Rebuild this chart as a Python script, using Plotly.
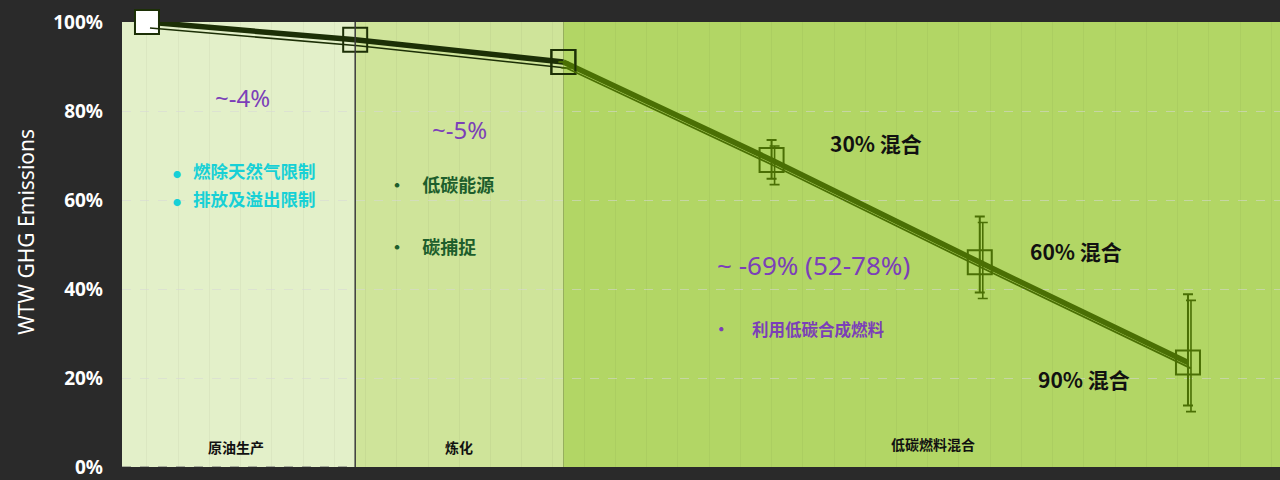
import plotly.graph_objects as go

# Stage positions along the value chain and the relative WTW emissions (%)
stage_pos = [0, 1, 2, 3, 4, 5]
emissions = [100, 96, 91, 69, 46, 23.5]
err_up = [0, 0, 0, 4.5, 10.3, 15.3]
err_down = [0, 0, 0, 4.2, 6.8, 9.7]

blend_labels = ["30% 混合", "60% 混合", "90% 混合"]
blend_label_pos = [(3.50, 72.8), (4.46, 48.6), (4.50, 19.8)]

region_names = ["原油生产", "炼化", "低碳燃料混合"]
region_bounds = [(-0.12, 1), (1, 2), (2, 5.442)]
region_fill = ["#e3f0c9", "#cfe49a", "#b2d665"]
region_label_pos = [(0.427, 4.5), (1.499, 4.5), (3.775, 5.1)]

reduction_labels = ["~-4%", "~-5%", "~ -69% (52-78%)"]
reduction_pos = [(0.461, 83.1), (1.503, 75.9), (3.199, 45.4)]
reduction_size = [24, 24, 26]

tick_vals = [0, 20, 40, 60, 80, 100]
tick_text = ["0%", "20%", "40%", "60%", "80%", "100%"]

X_RANGE = [-0.12, 5.442]
Y_RANGE = [0, 100]
PX_PER_X = 208.2
PX_PER_Y = 4.45

DARK = "#1c2f06"
OLIVE = "#4a6f04"
PURPLE = "#7b3fb8"
CJK = "Noto Sans CJK SC"

fig = go.Figure()

# thin offset companion line (drawn on slightly shifted overlay axes)
shadow_kw = dict(xaxis="x2", yaxis="y2", mode="lines", hoverinfo="skip", showlegend=False)
fig.add_trace(go.Scatter(x=stage_pos[:3], y=emissions[:3], line=dict(color=DARK, width=1.6), **shadow_kw))
fig.add_trace(go.Scatter(
    x=stage_pos[2:], y=emissions[2:], line=dict(color=OLIVE, width=1.8),
    error_y=dict(type="data", symmetric=False, array=err_up[2:], arrayminus=err_down[2:],
                 color=OLIVE, thickness=1.6, width=5),
    **shadow_kw))

# main emissions path: upstream and refining segment
fig.add_trace(go.Scatter(
    x=stage_pos[:3], y=emissions[:3], mode="lines+markers",
    line=dict(color=DARK, width=5.5),
    marker=dict(symbol="square", size=24, color=["white", "rgba(0,0,0,0)", "rgba(0,0,0,0)"],
                line=dict(color=DARK, width=2)),
    cliponaxis=False, showlegend=False, hoverinfo="skip"))

# main emissions path: low-carbon fuel blending segment
fig.add_trace(go.Scatter(
    x=stage_pos[2:], y=emissions[2:], mode="lines+markers",
    line=dict(color=OLIVE, width=5.5),
    marker=dict(symbol="square", size=24, color="rgba(0,0,0,0)",
                line=dict(color=[DARK, OLIVE, OLIVE, OLIVE], width=2)),
    error_y=dict(type="data", symmetric=False, array=err_up[2:], arrayminus=err_down[2:],
                 color=OLIVE, thickness=2, width=5),
    showlegend=False, hoverinfo="skip"))

# shaded stage regions
shapes = []
for (x0, x1), fill in zip(region_bounds, region_fill):
    shapes.append(dict(type="rect", xref="x", yref="y", x0=x0, x1=x1, y0=0, y1=100,
                       fillcolor=fill, line=dict(width=0), layer="below"))
shapes.append(dict(type="line", xref="x", yref="y", x0=region_bounds[0][0], x1=region_bounds[0][1],
                   y0=0, y1=0, line=dict(color="#6a6a6a", width=1.2, dash="dash"), layer="above"))
shapes.append(dict(type="line", xref="x", yref="y", x0=1, x1=1, y0=0, y1=100,
                   line=dict(color="#3c3c3c", width=1.5), layer="above"))

annotations = []
for text, (x, y) in zip(region_names, region_label_pos):
    annotations.append(dict(x=x, y=y, text=text, showarrow=False,
                            font=dict(family=CJK, size=14, color="#111111", weight="bold")))
for text, (x, y), size in zip(reduction_labels, reduction_pos, reduction_size):
    annotations.append(dict(x=x, y=y, text=text, showarrow=False,
                            font=dict(family="Noto Sans", size=size, color=PURPLE)))
for text, (x, y) in zip(blend_labels, blend_label_pos):
    annotations.append(dict(x=x, y=y, text=text, showarrow=False,
                            font=dict(family=CJK, size=21, color="#111111", weight="bold")))

# measures listed under each stage
big_dot = "<span style='font-size:8px'>●</span>"
measures = [
    (big_dot + "   燃除天然气限制", 0.115, 66.6, "#17d0d6", 17.5),
    (big_dot + "   排放及溢出限制", 0.115, 60.4, "#17d0d6", 17.5),
    ("•    低碳能源", 1.15, 63.7, "#1d5e2c", 18),
    ("•    碳捕捉", 1.15, 49.7, "#1d5e2c", 18),
    ("•      利用低碳合成燃料", 2.71, 31.0, PURPLE, 16.5),
]
for text, x, y, color, size in measures:
    annotations.append(dict(x=x, y=y, text=text, showarrow=False, xanchor="left",
                            font=dict(family=CJK, size=size, color=color, weight="bold")))

annotations.append(dict(xref="paper", yref="paper", x=-0.097, y=0.528, text="WTW GHG Emissions",
                        textangle=-90, showarrow=False,
                        font=dict(family="Noto Sans", size=21, color="white")))

dx = 3 / PX_PER_X
dy = 6 / PX_PER_Y
fig.update_layout(
    width=1280, height=480,
    margin=dict(l=122, r=0, t=22, b=13),
    paper_bgcolor="#2a2a2a", plot_bgcolor="rgba(0,0,0,0)",
    shapes=shapes, annotations=annotations,
    xaxis=dict(range=X_RANGE, showticklabels=False, zeroline=False, automargin=False,
               showgrid=True, dtick=0.15, gridcolor="rgba(0,0,0,0.035)", fixedrange=True),
    yaxis=dict(range=Y_RANGE, tickvals=tick_vals, ticktext=tick_text, zeroline=False,
               automargin=False,
               showgrid=True, gridcolor="rgba(215,215,215,0.55)", griddash="dash",
               ticklabelstandoff=18, ticklabeloverflow="allow",
               tickfont=dict(family="Noto Sans", size=19, color="white", weight="bold")),
    xaxis2=dict(range=[X_RANGE[0] - dx, X_RANGE[1] - dx], overlaying="x", visible=False),
    yaxis2=dict(range=[Y_RANGE[0] + dy, Y_RANGE[1] + dy], overlaying="y", visible=False),
)

fig.write_html("out.html")
